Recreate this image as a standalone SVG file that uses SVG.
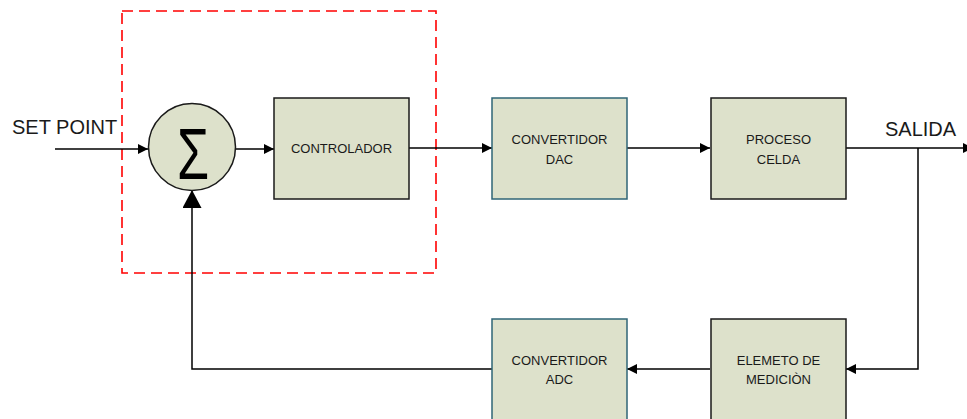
<svg xmlns="http://www.w3.org/2000/svg" width="967" height="419" viewBox="0 0 967 419">
<style>
.blk{fill:#dde1cb;stroke:#1a1a1a;stroke-width:1.5}
.teal{fill:#dde1cb;stroke:#2f6577;stroke-width:1.5}
.lbl{font-family:"Liberation Sans",Arial,sans-serif;font-size:13px;fill:#1a1a1a;text-anchor:middle}
.big{font-family:"Liberation Sans",Arial,sans-serif;font-size:20px;fill:#1a1a1a}
.wire{fill:none;stroke:#000;stroke-width:1.5}
</style>
<defs>
<marker id="a" markerUnits="userSpaceOnUse" markerWidth="10" markerHeight="10" refX="10" refY="5" orient="auto"><path d="M0,0 L10,5 L0,10 z" fill="#000"/></marker>
<marker id="b" markerUnits="userSpaceOnUse" markerWidth="18" markerHeight="19" refX="18" refY="9.5" orient="auto"><path d="M0,0 L18,9.5 L0,19 z" fill="#000"/></marker>
</defs>
<rect x="122" y="11" width="314" height="262" fill="none" stroke="#f00" stroke-width="1.6" stroke-dasharray="11,6"/>
<g id="connectors">
<line class="wire" x1="55" y1="149" x2="148" y2="149" marker-end="url(#a)"/>
<line class="wire" x1="235" y1="149" x2="274" y2="149" marker-end="url(#a)"/>
<line class="wire" x1="409" y1="148" x2="492" y2="148" marker-end="url(#a)"/>
<line class="wire" x1="627" y1="148" x2="710" y2="148" marker-end="url(#a)"/>
<line class="wire" x1="846" y1="148" x2="973" y2="148" marker-end="url(#a)"/>
<path class="wire" d="M918,148 L918,369 L846,369" marker-end="url(#a)"/>
<line class="wire" x1="710" y1="369" x2="627" y2="369" marker-end="url(#a)"/>
<path class="wire" d="M492,369 L192,369 L192,190" marker-end="url(#b)"/>
</g>
<g id="sum">
<circle cx="192" cy="147" r="43.5" class="blk"/>
<text transform="translate(193,179) scale(1,1.38)" font-family="Liberation Sans,Arial,sans-serif" font-size="52" text-anchor="middle" fill="#000">Σ</text>
</g>
<g id="controlador">
<rect x="274" y="98" width="135" height="101" class="blk"/>
<text class="lbl" x="341.5" y="153" font-size="13.4">CONTROLADOR</text>
</g>
<g id="dac">
<rect x="492" y="98" width="135" height="101" class="teal"/>
<text class="lbl" x="559.5" y="144">CONVERTIDOR</text>
<text class="lbl" x="559.5" y="164">DAC</text>
</g>
<g id="proceso">
<rect x="711" y="98" width="135" height="101" class="blk"/>
<text class="lbl" x="778.5" y="144">PROCESO</text>
<text class="lbl" x="778.5" y="164">CELDA</text>
</g>
<g id="elemeto">
<rect x="711" y="319" width="135" height="102" class="blk"/>
<text class="lbl" x="778.5" y="365">ELEMETO DE</text>
<text class="lbl" x="778.5" y="384">MEDICIÒN</text>
</g>
<g id="adc">
<rect x="492" y="319" width="135" height="102" class="teal"/>
<text class="lbl" x="559.5" y="365">CONVERTIDOR</text>
<text class="lbl" x="559.5" y="384">ADC</text>
</g>
<text class="big" x="12" y="134">SET POINT</text>
<text class="big" x="885" y="136">SALIDA</text>
</svg>
